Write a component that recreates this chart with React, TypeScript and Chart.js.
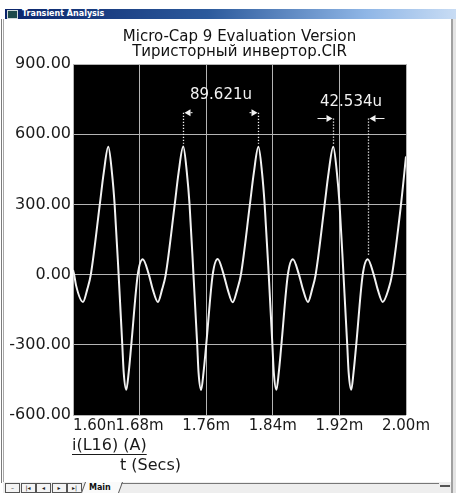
import React, { useEffect, useRef } from "react";
import { Chart, registerables } from "chart.js";

Chart.register(...registerables);

// ---- data ----
const TITLE_LINES = ["Micro-Cap 9 Evaluation Version", "Тиристорный инвертор.CIR"];
const Y_TICK_LABELS = ["-600.00", "-300.00", "0.00", "300.00", "600.00", "900.00"];
const X_TICK_LABELS = ["1.60n", "1.68m", "1.76m", "1.84m", "1.92m", "2.00m"];
const CURVE_NAME = "i(L16) (A)";
const X_TITLE = "t (Secs)";

// time in microseconds
const TIME_US = [
  1600.0, 1601.4, 1603.6, 1612.0, 1617.2, 1621.4, 1632.2, 1636.9, 1642.4, 1646.8, 1650.0,
  1654.8, 1659.2, 1660.9, 1664.0, 1666.9, 1670.0, 1677.8, 1683.8, 1691.1, 1695.7, 1701.9,
  1707.1, 1711.4, 1722.2, 1726.8, 1732.4, 1736.8, 1740.0, 1744.7, 1749.2, 1750.8, 1753.9,
  1756.8, 1760.0, 1767.8, 1773.8, 1781.0, 1785.7, 1791.8,
  1797.4, 1801.7, 1812.5, 1817.2, 1822.7, 1827.1, 1830.2, 1835.1, 1839.5, 1841.2, 1844.3,
  1847.2, 1850.3, 1858.1, 1864.1, 1871.4, 1876.1, 1882.2,
  1887.3, 1891.5, 1902.3, 1907.0, 1912.6, 1917.0, 1920.2, 1924.9, 1929.4, 1931.1, 1934.2,
  1937.0, 1940.2, 1948.0, 1954.0, 1961.2, 1965.9, 1972.0,
  1979.0, 1983.2, 1994.0, 2000.0,
];
// current in amperes
const CURRENT_A = [
  20, 0, -45, -117, -62, 0, 300, 435, 546, 435, 300,
  0, -300, -418, -492, -418, -300, 0, 66, 0, -62, -117,
  -62, 0, 300, 435, 547, 435, 300, 0, -300, -418, -493,
  -418, -300, 0, 67, 0, -62, -118,
  -62, 0, 300, 435, 546, 435, 300, 0, -300, -418, -492,
  -418, -300, 0, 66, 0, -62, -117,
  -62, 0, 300, 435, 546, 435, 300, 0, -300, -418, -492,
  -418, -300, 0, 66, 0, -62, -117,
  -62, 0, 300, 505,
];

// dimension (cursor) tags
const DIM_LABELS = ["89.621u", "42.534u"];
const DIM_START_T = [1732.4, 1912.6];
const DIM_END_T = [1822.7, 1954.0];
const DIM_START_V = [546, 546];
const DIM_END_V = [546, 66];
const DIM_ARROW_V = [692, 667];
const DIM_TEXT_V = [769, 737];
const DIM_ARROWS_INSIDE = [true, false];

const FONT = '"DejaVu Sans", "Liberation Sans", Arial, sans-serif';

const plotBackground = {
  id: "plotBackground",
  beforeDraw(chart: any) {
    const { ctx, chartArea: a } = chart;
    ctx.save();
    ctx.fillStyle = "#000";
    ctx.fillRect(a.left, a.top, a.right - a.left, a.bottom - a.top);
    ctx.restore();
  },
};

function arrowHead(ctx: any, tipX: number, y: number, dir: number, shaft: number) {
  // dir = -1 : points left, +1 : points right
  const len = 6;
  const half = 3.5;
  ctx.beginPath();
  ctx.moveTo(tipX, y);
  ctx.lineTo(tipX - dir * len, y - half);
  ctx.lineTo(tipX - dir * len, y + half);
  ctx.closePath();
  ctx.fill();
  if (shaft > 0) {
    ctx.beginPath();
    ctx.moveTo(tipX - dir * len, y);
    ctx.lineTo(tipX - dir * (len + shaft), y);
    ctx.stroke();
  }
}

const dimensionTags = {
  id: "dimensionTags",
  afterDatasetsDraw(chart: any) {
    const { ctx } = chart;
    const xs = chart.scales.x;
    const ys = chart.scales.y;
    ctx.save();
    ctx.strokeStyle = "#f2f2f2";
    ctx.fillStyle = "#f2f2f2";
    for (let i = 0; i < DIM_LABELS.length; i++) {
      const x1 = Math.round(xs.getPixelForValue(DIM_START_T[i])) + 0.5;
      const x2 = Math.round(xs.getPixelForValue(DIM_END_T[i])) + 0.5;
      const ya = ys.getPixelForValue(DIM_ARROW_V[i]);
      const y1 = ys.getPixelForValue(DIM_START_V[i]) - 3;
      const y2 = ys.getPixelForValue(DIM_END_V[i]) - 3;
      ctx.lineWidth = 1.3;
      ctx.setLineDash([1.3, 1.7]);
      ctx.beginPath();
      ctx.moveTo(x1, ya);
      ctx.lineTo(x1, y1);
      ctx.moveTo(x2, ya);
      ctx.lineTo(x2, y2);
      ctx.stroke();
      ctx.setLineDash([]);
      ctx.lineWidth = 1;
      if (DIM_ARROWS_INSIDE[i]) {
        arrowHead(ctx, x1 + 1, ya, -1, 2);
        arrowHead(ctx, x2 - 1, ya, 1, 2);
      } else {
        arrowHead(ctx, x1 - 1, ya, 1, 9);
        arrowHead(ctx, x2 + 1, ya, -1, 9);
      }
      ctx.font = `15px ${FONT}`;
      ctx.textAlign = "center";
      ctx.textBaseline = "middle";
      ctx.fillText(DIM_LABELS[i], (x1 + x2) / 2, ys.getPixelForValue(DIM_TEXT_V[i]));
    }
    ctx.restore();
  },
};

const axisCaptions = {
  id: "axisCaptions",
  afterDraw(chart: any) {
    const { ctx, chartArea: a } = chart;
    ctx.save();
    ctx.fillStyle = "#1a1a1a";
    ctx.strokeStyle = "#1a1a1a";
    ctx.font = `16px ${FONT}`;
    ctx.textAlign = "left";
    ctx.textBaseline = "middle";
    const nx = a.left - 1;
    const ny = a.bottom + 31;
    ctx.fillText(CURVE_NAME, nx, ny);
    const w = ctx.measureText(CURVE_NAME).width;
    ctx.lineWidth = 1.2;
    ctx.beginPath();
    ctx.moveTo(nx, ny + 8.5);
    ctx.lineTo(nx + w, ny + 8.5);
    ctx.stroke();
    ctx.fillText(X_TITLE, a.left + 47, a.bottom + 51);
    ctx.restore();
  },
};

function ChartCanvas() {
  const ref = useRef<HTMLCanvasElement | null>(null);
  useEffect(() => {
    if (!ref.current) return;
    const points = TIME_US.map((t, i) => ({ x: t, y: CURRENT_A[i] }));
    const tickFont = { family: FONT, size: 15 };
    const chart = new Chart(ref.current, {
      type: "line",
      data: {
        datasets: [
          {
            label: CURVE_NAME,
            data: points,
            borderColor: "#f2f2f2",
            borderWidth: 2,
            pointRadius: 0,
            fill: false,
            cubicInterpolationMode: "monotone",
            yAxisID: "y",
          },
        ],
      },
      options: {
        responsive: false,
        animation: false,
        events: [],
        layout: { padding: 0 },
        plugins: {
          legend: { display: false },
          tooltip: { enabled: false },
          title: {
            display: true,
            text: TITLE_LINES,
            color: "#111",
            font: { family: FONT, size: 15, weight: "normal", lineHeight: "15px" },
            padding: { top: 30, bottom: 4 },
          },
        },
        scales: {
          x: {
            type: "linear",
            min: 1600,
            max: 2000,
            afterFit: (s: any) => {
              s.height = 78;
            },
            border: { display: false },
            grid: { color: "#b4b4b4", lineWidth: 1, drawTicks: false },
            ticks: {
              stepSize: 80,
              autoSkip: false,
              maxRotation: 0,
              minRotation: 0,
              padding: 2,
              color: "#1a1a1a",
              font: tickFont,
              callback: (_v: any, i: number) =>
                i === 0 ? " ".repeat(9) + X_TICK_LABELS[0] : X_TICK_LABELS[i],
            },
          },
          y: {
            type: "linear",
            position: "left",
            min: -600,
            max: 900,
            afterFit: (s: any) => {
              s.width = 73;
            },
            border: { display: false },
            grid: { color: "#b4b4b4", lineWidth: 1, drawTicks: false },
            ticks: {
              stepSize: 300,
              padding: 2,
              color: "#1a1a1a",
              font: { family: FONT, size: 16 },
              callback: (_v: any, i: number) => Y_TICK_LABELS[i],
            },
          },
          // empty spacer axis on the right so the title centres over the plot
          yRight: {
            type: "linear",
            position: "right",
            min: -600,
            max: 900,
            afterFit: (s: any) => {
              s.width = 73;
            },
            border: { display: false },
            grid: { display: false, drawTicks: false },
            ticks: { display: false },
          },
        },
      },
      plugins: [plotBackground, dimensionTags, axisCaptions],
    } as any);
    return () => chart.destroy();
  }, []);
  return (
    <canvas
      ref={ref}
      width={479}
      height={493}
      style={{ position: "absolute", left: 0, top: 0, width: 479, height: 493 }}
    />
  );
}

const btn: React.CSSProperties = {
  position: "absolute",
  top: 1,
  width: 13,
  height: 8,
  border: "1px solid #555",
  background: "#f4f4f4",
  fontSize: 6,
  lineHeight: "8px",
  textAlign: "center",
  color: "#222",
  fontFamily: FONT,
  boxSizing: "content-box",
};

export default function App() {
  const buttons = ["–", "|◂", "◂", "▸", "▸|"];
  return (
    <div
      style={{
        position: "fixed",
        left: 0,
        top: 0,
        width: 456,
        height: 493,
        overflow: "hidden",
        background: "#fff",
      }}
    >
      <ChartCanvas />
      {/* title bar */}
      <div
        style={{
          position: "absolute",
          left: 5,
          top: 9,
          width: 451,
          height: 10,
          background: "linear-gradient(to right, #0a246a 0%, #2c5a9c 45%, #8fb6e6 80%, #c8dcf4 100%)",
        }}
      >
        <div
          style={{
            position: "absolute",
            left: 2,
            top: 1,
            width: 9,
            height: 7,
            background: "#1d4a4a",
            border: "1px solid #cfd8d8",
            boxSizing: "content-box",
          }}
        />
        <div
          style={{
            position: "absolute",
            left: 17,
            top: 0,
            height: 10,
            lineHeight: "10px",
            color: "#fff",
            fontFamily: FONT,
            fontWeight: "bold",
            fontSize: 8,
            whiteSpace: "nowrap",
          }}
        >
          Transient Analysis
        </div>
      </div>
      {/* window frame */}
      <div style={{ position: "absolute", left: 1, top: 19, width: 1, height: 464, background: "#7c7c7c" }} />
      <div style={{ position: "absolute", left: 3, top: 19, width: 1, height: 464, background: "#a8a8a8" }} />
      <div style={{ position: "absolute", left: 451, top: 19, width: 2, height: 474, background: "#a0a0a0" }} />
      <div style={{ position: "absolute", left: 453, top: 19, width: 3, height: 474, background: "#e4e4e4" }} />
      {/* tab bar */}
      <div
        style={{
          position: "absolute",
          left: 3,
          top: 482,
          width: 448,
          height: 11,
          background: "#eeeeee",
        }}
      >
        {buttons.map((b, i) => (
          <div key={i} style={{ ...btn, left: 2 + i * 15.5 }}>
            {b}
          </div>
        ))}
        <div
          style={{
            position: "absolute",
            left: 80,
            top: 0,
            width: 36,
            height: 11,
            background: "#fafafa",
            borderLeft: "1px solid #555",
            borderRight: "1px solid #555",
            transform: "skewX(-20deg)",
          }}
        />
        <div
          style={{
            position: "absolute",
            left: 86,
            top: 0,
            height: 11,
            lineHeight: "11px",
            fontFamily: FONT,
            fontWeight: "bold",
            fontSize: 8,
            color: "#111",
          }}
        >
          Main
        </div>
        <div style={{ position: "absolute", left: 118, top: 1, width: 318, height: 1, background: "#777" }} />
        <div style={{ position: "absolute", left: 437, top: 3, width: 10, height: 2, background: "#555" }} />
      </div>
    </div>
  );
}
